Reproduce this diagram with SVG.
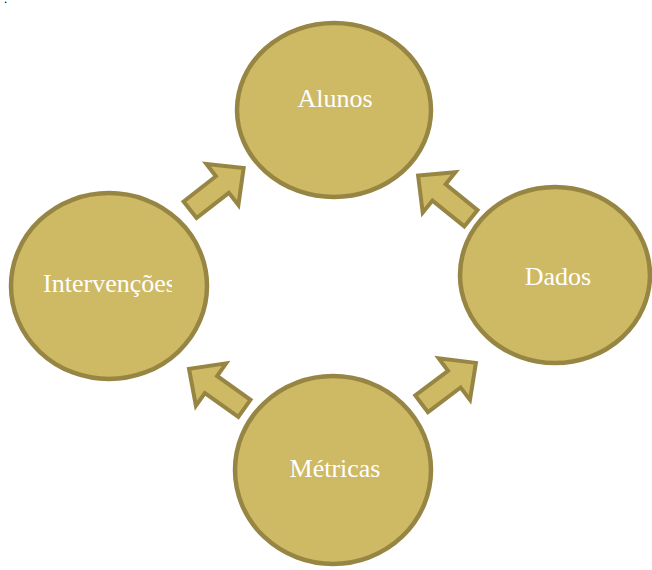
<svg xmlns="http://www.w3.org/2000/svg" width="652" height="570" viewBox="0 0 652 570">
  <style>
    .node { fill: #CEB965; stroke: #978643; stroke-width: 4.5; }
    .arrow { fill: #CEB965; stroke: #978643; stroke-width: 4; stroke-linejoin: miter; }
    .label { font-family: "Liberation Serif", "Times New Roman", serif; font-size: 26px; fill: #FFFFFF; text-anchor: middle; }
  </style>
  <defs>
    <polygon id="blockArrow" points="2,-10.5 43,-10.5 43,-26 70,0 43,26 43,10.5 2,10.5"/>
    <!-- text box of the left node: the last letter runs past its right edge -->
    <clipPath id="clipInterv">
      <rect x="30" y="250" width="142" height="60"/>
    </clipPath>
  </defs>
  <rect width="652" height="570" fill="#FFFFFF"/>
  <text x="4" y="3" font-family="Liberation Serif, serif" font-size="13" fill="#000000">.</text>

  <g id="connectors">
    <use href="#blockArrow" class="arrow" transform="translate(188.5,211) rotate(-38)"/>
    <use href="#blockArrow" class="arrow" transform="translate(472.5,219.5) rotate(-141)"/>
    <use href="#blockArrow" class="arrow" transform="translate(246,409.5) rotate(-144.5)"/>
    <use href="#blockArrow" class="arrow" transform="translate(420,405) rotate(-37)"/>
  </g>

  <g id="alunos">
    <ellipse class="node" cx="334" cy="110" rx="97" ry="87"/>
    <text class="label" x="335" y="107">Alunos</text>
  </g>
  <g id="intervencoes">
    <ellipse class="node" cx="109" cy="286" rx="98" ry="93"/>
    <text class="label" x="109.5" y="292" clip-path="url(#clipInterv)">Intervenções</text>
  </g>
  <g id="dados">
    <ellipse class="node" cx="555" cy="275" rx="95" ry="88"/>
    <text class="label" x="558" y="285">Dados</text>
  </g>
  <g id="metricas">
    <ellipse class="node" cx="333" cy="470" rx="98" ry="94"/>
    <text class="label" x="335" y="477">Métricas</text>
  </g>
</svg>
